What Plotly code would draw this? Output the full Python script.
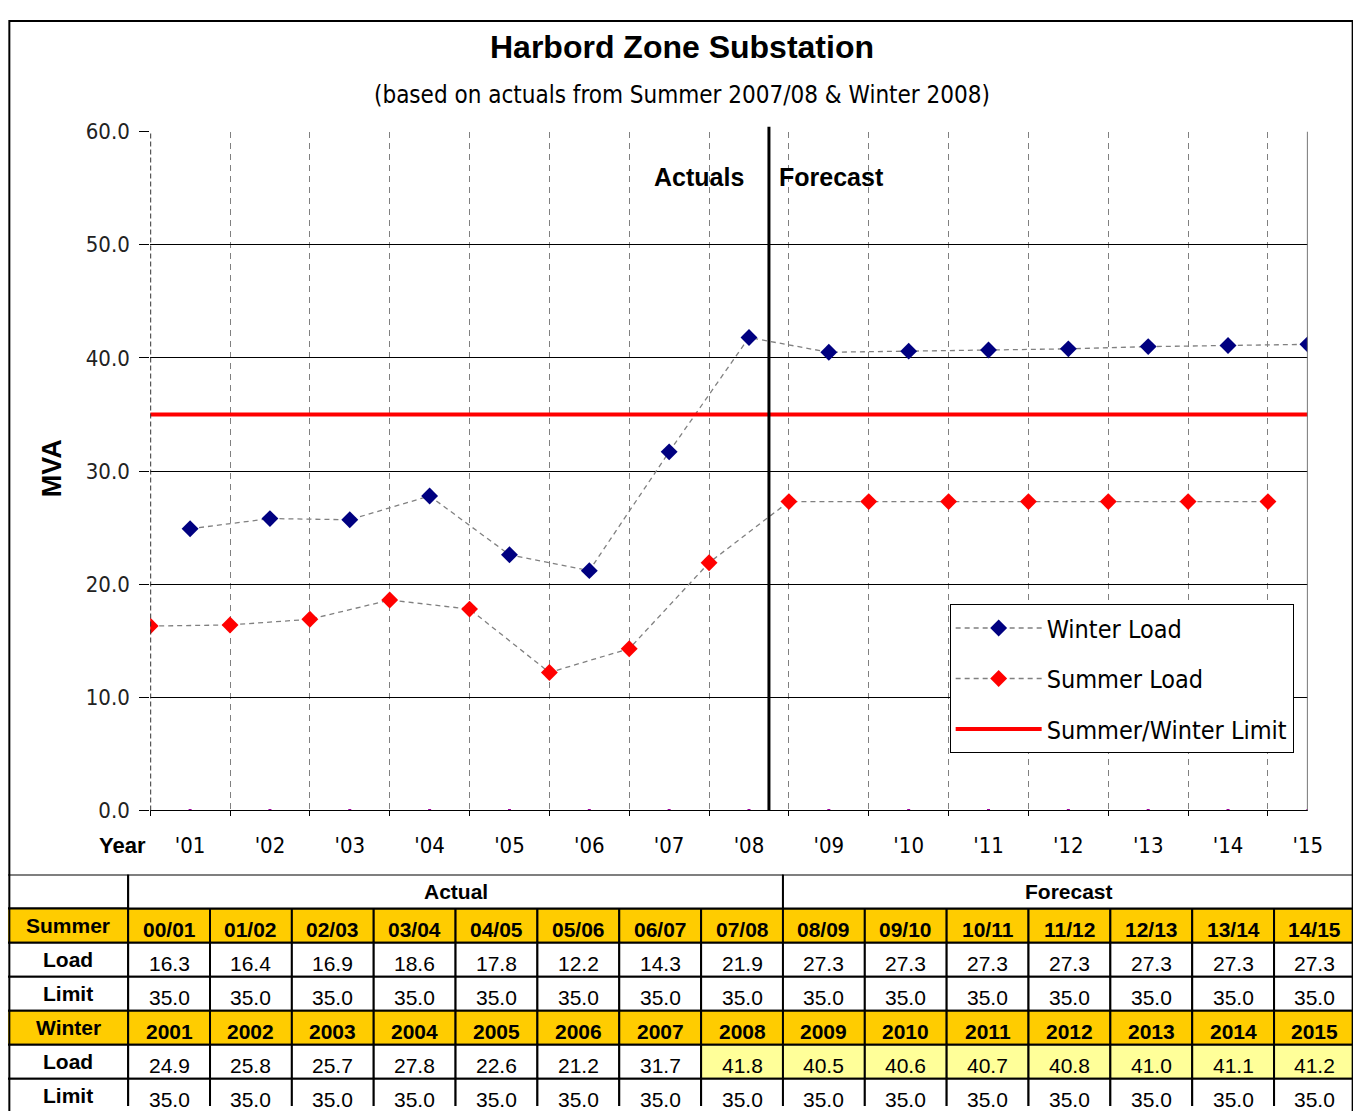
import plotly.graph_objects as go

# ---------------- data ----------------
summer_labels = ["00/01", "01/02", "02/03", "03/04", "04/05", "05/06", "06/07", "07/08",
                 "08/09", "09/10", "10/11", "11/12", "12/13", "13/14", "14/15"]
winter_labels = ["2001", "2002", "2003", "2004", "2005", "2006", "2007", "2008",
                 "2009", "2010", "2011", "2012", "2013", "2014", "2015"]
year_ticks = ["'01", "'02", "'03", "'04", "'05", "'06", "'07", "'08",
              "'09", "'10", "'11", "'12", "'13", "'14", "'15"]
summer_load = [16.3, 16.4, 16.9, 18.6, 17.8, 12.2, 14.3, 21.9, 27.3, 27.3, 27.3, 27.3, 27.3, 27.3, 27.3]
summer_limit = [35.0, 35.0, 35.0, 35.0, 35.0, 35.0, 35.0, 35.0, 35.0, 35.0, 35.0, 35.0, 35.0, 35.0, 35.0]
winter_load = [24.9, 25.8, 25.7, 27.8, 22.6, 21.2, 31.7, 41.8, 40.5, 40.6, 40.7, 40.8, 41.0, 41.1, 41.2]
winter_limit = [35.0, 35.0, 35.0, 35.0, 35.0, 35.0, 35.0, 35.0, 35.0, 35.0, 35.0, 35.0, 35.0, 35.0, 35.0]
zero_series = [0, 0, 0, 0, 0, 0, 0, 0, 0, 0, 0, 0, 0, 0, 0]
n_actual = 8  # seasons that are actuals

# ---------------- layout helpers ----------------
FW, FH = 1361, 1111
# observed page placement / capture scale
SX, SY = 1361 / 1377.0, 1111 / 1138.0
OX, OY = 8, 21
def px(X):
    return (X / SX - OX) / FW
def py(Y):
    return 1 - (Y / SY - OY) / FH

NARROW = "Liberation Sans Narrow, DejaVu Sans Condensed, sans-serif"
ARIAL = "Liberation Sans, Arial, sans-serif"

n = len(summer_labels)
xs = list(range(n))                 # summer positions
xw = [i + 0.5 for i in range(n)]    # winter positions
divider = xw[n_actual - 1] + 0.25   # between last actual winter and first forecast summer

# interleaved limit line
lim_x, lim_y = [], []
for i in range(n):
    lim_x += [xs[i], xw[i]]
    lim_y += [summer_limit[i], winter_limit[i]]

fig = go.Figure()

fig.add_trace(go.Scatter(
    x=xw, y=winter_load, name="Winter Load", legendgroup="w",
    mode="lines+markers",
    line=dict(color="#808080", width=1.3, dash="5px,4px"),
    marker=dict(symbol="diamond", size=13, color="#000080"),
))
fig.add_trace(go.Scatter(
    x=xs, y=summer_load, name="Summer Load", legendgroup="s",
    mode="lines+markers",
    line=dict(color="#808080", width=1.3, dash="5px,4px"),
    marker=dict(symbol="diamond", size=13, color="#FF0000"),
))
fig.add_trace(go.Scatter(
    x=lim_x, y=lim_y, name="Summer/Winter Limit", legendgroup="l",
    mode="lines", line=dict(color="#FF0000", width=4),
))
fig.add_trace(go.Scatter(
    x=xw, y=zero_series, mode="markers", showlegend=False,
    marker=dict(symbol="square", size=3, color="#990099"),
    hoverinfo="skip",
))

shapes = []
annotations = []

# Actual / Forecast divider
shapes.append(dict(type="line", xref="x", yref="paper", x0=divider, x1=divider,
                   y0=py(810), y1=py(127), line=dict(color="black", width=3)))
# left dashed axis and right border
shapes.append(dict(type="line", xref="x", yref="paper", x0=0, x1=0,
                   y0=py(810), y1=py(132), line=dict(color="#333333", width=2, dash="5px,3px")))
shapes.append(dict(type="line", xref="x", yref="paper", x0=n - 0.5, x1=n - 0.5,
                   y0=py(810), y1=py(132), line=dict(color="#777777", width=2)))

annotations.append(dict(xref="x", yref="paper", x=divider - 0.29, y=py(177), text="<b>Actuals</b>",
                        showarrow=False, xanchor="right", yanchor="middle",
                        font=dict(family=ARIAL, size=25, color="black")))
annotations.append(dict(xref="x", yref="paper", x=divider + 0.1, y=py(177), text="<b>Forecast</b>",
                        showarrow=False, xanchor="left", yanchor="middle",
                        font=dict(family=ARIAL, size=25, color="black")))

# titles
annotations.append(dict(xref="paper", yref="paper", x=px(681), y=py(47), text="<b>Harbord Zone Substation</b>",
                        showarrow=False, xanchor="center", yanchor="middle",
                        font=dict(family=ARIAL, size=32, color="black")))
annotations.append(dict(xref="paper", yref="paper", x=px(681), y=py(95),
                        text="(based on actuals from Summer 2007/08 & Winter 2008)",
                        showarrow=False, xanchor="center", yanchor="middle",
                        font=dict(family=NARROW, size=24, color="black")))
annotations.append(dict(xref="paper", yref="paper", x=px(52), y=py(468), text="<b>MVA</b>",
                        showarrow=False, textangle=-90, xanchor="center", yanchor="middle",
                        font=dict(family=ARIAL, size=27, color="black")))
annotations.append(dict(xref="paper", yref="paper", x=px(122), y=py(845), text="<b>Year</b>",
                        showarrow=False, xanchor="center", yanchor="middle",
                        font=dict(family=ARIAL, size=22, color="black")))

# ---------------- table ----------------
YELLOW = "#FFCC00"
LIGHT = "#FFFF99"
CW = (1355 - 128) / 15.0   # column width (reference px)
RH = 34.0                  # row height (reference px)
rows = [
    ("", None, None, "white", False),
    ("Summer", summer_labels, None, YELLOW, True),
    ("Load", summer_load, summer_limit, "white", False),
    ("Limit", summer_limit, None, "white", False),
    ("Winter", winter_labels, None, YELLOW, True),
    ("Load", winter_load, winter_limit, "white", False),
    ("Limit", winter_limit, None, "white", False),
]
LBL0 = -(128 - 5) / CW
BORDER = dict(color="black", width=2)
for r, (label, vals, lims, fill, bold) in enumerate(rows):
    shapes.append(dict(type="rect", xref="x2", yref="y2", x0=LBL0, x1=0, y0=r, y1=r + 1,
                       fillcolor=fill, line=BORDER, layer="below"))
    if label:
        annotations.append(dict(xref="x2", yref="y2", x=(LBL0 + 0) / 2 + 0.02, y=r + 0.5,
                                text="<b>%s</b>" % label,
                                showarrow=False, font=dict(family=ARIAL, size=21, color="black")))
    if vals is None:
        continue
    for c in range(n):
        v = vals[c]
        cf = fill
        if lims is not None and isinstance(v, float) and v > lims[c]:
            cf = LIGHT
        shapes.append(dict(type="rect", xref="x2", yref="y2", x0=c, x1=c + 1, y0=r, y1=r + 1,
                           fillcolor=cf, line=BORDER, layer="below"))
        txt = v if isinstance(v, str) else "%.1f" % v
        if bold:
            txt = "<b>%s</b>" % txt
        annotations.append(dict(xref="x2", yref="y2", x=c + 0.5, y=r + 0.6, text=txt,
                                showarrow=False,
                                font=dict(family=ARIAL, size=21 if bold else 21, color="black")))

# header row: Actual / Forecast
shapes.append(dict(type="rect", xref="x2", yref="y2", x0=0, x1=n_actual, y0=0, y1=1,
                   fillcolor="white", line=BORDER, layer="below"))
shapes.append(dict(type="rect", xref="x2", yref="y2", x0=n_actual, x1=n, y0=0, y1=1,
                   fillcolor="white", line=BORDER, layer="below"))
annotations.append(dict(xref="x2", yref="y2", x=n_actual / 2, y=0.5, text="<b>Actual</b>",
                        showarrow=False, font=dict(family=ARIAL, size=21, color="black")))
annotations.append(dict(xref="x2", yref="y2", x=(n_actual + n) / 2, y=0.5, text="<b>Forecast</b>",
                        showarrow=False, font=dict(family=ARIAL, size=21, color="black")))

# outer frame
shapes.append(dict(type="rect", xref="paper", yref="paper", x0=0.001, x1=0.999, y0=-0.01, y1=0.999,
                   line=dict(color="black", width=2), fillcolor="rgba(0,0,0,0)"))

# table axis ranges (reference px at the figure edges)
X_left, X_right = SX * OX, SX * (OX + FW)
Y_bottom = SY * (OY + FH)

fig.update_layout(
    width=FW, height=FH, autosize=False,
    margin=dict(l=0, r=0, t=0, b=0),
    paper_bgcolor="white", plot_bgcolor="white",
    font=dict(family=NARROW, color="black"),
    shapes=shapes, annotations=annotations,
    showlegend=True,
    legend=dict(x=px(949), y=py(604), xanchor="left", yanchor="top",
                bgcolor="white", bordercolor="black", borderwidth=1,
                font=dict(family=NARROW, size=25, color="black"),
                tracegroupgap=15, traceorder="grouped", itemwidth=86),
    xaxis=dict(domain=[px(150), px(1307)], range=[0, n - 0.5],
               tickmode="array", tickvals=xw, ticktext=year_ticks, ticks="",
               showgrid=False, zeroline=False, showline=True, linecolor="black", linewidth=1,
               tickfont=dict(family=NARROW, size=22, color="black"),
               ticklabelstandoff=15,
               minor=dict(tickmode="array", tickvals=xs, ticks="outside", ticklen=5,
                          tickcolor="black", showgrid=True, gridcolor="#808080",
                          griddash="6px,5px", gridwidth=1),
               fixedrange=True),
    yaxis=dict(domain=[py(810), py(132)], range=[0, 60], dtick=10, tickformat=".1f",
               showgrid=True, gridcolor="black", gridwidth=1, zeroline=False,
               ticks="outside", ticklen=10, tickcolor="black", showline=False,
               ticklabelstandoff=5,
               tickfont=dict(family=NARROW, size=22, color="#222222"),
               fixedrange=True),
    xaxis2=dict(domain=[0, 1], range=[(X_left - 128) / CW, (X_right - 128) / CW], anchor="y2",
                visible=False, fixedrange=True),
    yaxis2=dict(domain=[0, py(874)], range=[(Y_bottom - 874) / RH, 0], anchor="x2",
                visible=False, fixedrange=True),
)

fig.write_html("out.html")
